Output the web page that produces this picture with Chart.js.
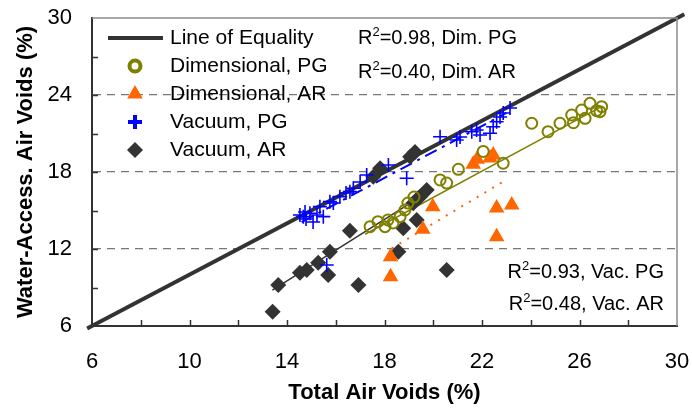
<!DOCTYPE html>
<html>
<head>
<meta charset="utf-8">
<script src="https://cdn.jsdelivr.net/npm/chart.js@4.4.0/dist/chart.umd.min.js"></script>
<style>
    html, body { margin: 0; padding: 0; background: #fff; }
</style>
</head>
<body>
<canvas id="chartVoids" width="692" height="412"></canvas>
<script>
// ==================== DATA ====================
const xTicks = [6, 10, 14, 18, 22, 26, 30];
const yTicks = [6, 12, 18, 24, 30];

const dimPgX = [17.41, 17.73, 18.02, 18.14, 18.35, 18.64, 18.84, 18.96, 19.21, 20.28, 20.55, 21.03, 22.05, 22.87, 24.04, 24.71, 25.2, 25.68, 25.75, 26.09, 26.23, 26.43, 26.7, 26.91, 26.84];
const dimPgY = [13.74, 14.13, 13.74, 14.26, 14.03, 14.52, 15.04, 15.58, 16.05, 17.38, 17.14, 18.21, 19.6, 18.68, 21.8, 21.14, 21.8, 22.44, 21.84, 22.83, 22.18, 23.35, 22.78, 23.09, 22.7];

const dimArX = [18.25, 18.25, 19.57, 19.98, 21.64, 21.8, 22.33, 22.46, 22.6, 23.22, 22.6];
const dimArY = [11.4, 9.84, 13.54, 15.3, 18.6, 19.0, 19.1, 19.32, 15.2, 15.43, 12.96];

const vacPgX = [14.53, 14.67, 14.74, 14.78, 14.94, 15.07, 15.23, 15.35, 15.49, 15.76, 15.9, 16.17, 16.42, 16.58, 16.72, 17.0, 17.27, 18.16, 18.91, 15.63, 20.28, 20.96, 21.1, 21.58, 21.78, 21.92, 22.33, 22.46, 22.6, 22.74, 22.87, 23.15];
const vacPgY = [14.65, 14.52, 14.88, 14.34, 14.78, 14.1, 14.65, 15.3, 14.52, 15.69, 15.58, 16.08, 16.36, 16.47, 16.73, 17.22, 17.77, 18.55, 17.51, 10.75, 20.75, 20.49, 20.73, 21.14, 21.27, 20.88, 21.02, 21.53, 21.92, 22.29, 22.6, 22.99];

const vacArX = [13.41, 13.64, 14.53, 14.81, 15.28, 15.76, 15.69, 16.93, 16.58, 17.54, 17.82, 18.57, 18.77, 19.32, 19.18, 19.39, 19.46, 19.73, 20.55, 19.05, 19.25];
const vacArY = [7.11, 9.19, 10.15, 10.36, 10.93, 11.79, 9.97, 9.19, 13.43, 17.63, 18.29, 11.79, 13.61, 14.26, 15.56, 15.97, 16.08, 16.6, 10.36, 19.19, 19.56];

// trend lines (end points)
const equalityX = [5.8, 30.3];
const equalityY = [5.8, 30.3];
const dimPgFitX = [17.2, 26.9];
const dimPgFitY = [13.15, 23.1];
const dimArFitX = [18.3, 23.0];
const dimArFitY = [12.05, 17.4];
const vacPgFitX = [14.6, 23.0];
const vacPgFitY = [14.1, 22.6];
const vacArFitX = [13.4, 20.0];
const vacArFitY = [8.8, 16.7];

const legendLabels = ["Line of Equality", "Dimensional, PG", "Dimensional, AR", "Vacuum, PG", "Vacuum, AR"];
const r2Labels = [
    { r2: "0.98", ten: "Dim. PG" },
    { r2: "0.40", ten: "Dim. AR" },
    { r2: "0.93", ten: "Vac. PG" },
    { r2: "0.48", ten: "Vac. AR" }
];

const FONT = '"Liberation Sans", Arial, sans-serif';
const OLIVE = "#808000";
const ORANGE = "#ff6600";
const BLUE = "#0000ff";
const DARK = "#333333";

function toPoints(xs, ys) {
    return xs.map((x, i) => ({ x: x, y: ys[i] }));
}

// ==================== DATASETS ====================
const datasets = [
    { label: legendLabels[0], type: "line", data: toPoints(equalityX, equalityY), borderColor: DARK, borderWidth: 4, pointRadius: 0, clip: false, order: 3 },
    { label: legendLabels[1], data: toPoints(dimPgX, dimPgY), pointStyle: "circle", pointRadius: 5.5, borderWidth: 2, borderColor: OLIVE, backgroundColor: "rgba(0,0,0,0)", order: 1 },
    { label: legendLabels[2], data: toPoints(dimArX, dimArY), pointStyle: "triangle", pointRadius: 9, borderWidth: 0, borderColor: ORANGE, backgroundColor: ORANGE, order: 1 },
    { label: legendLabels[3], data: toPoints(vacPgX, vacPgY), pointStyle: "cross", pointRadius: 7, borderWidth: 1.6, borderColor: BLUE, backgroundColor: BLUE, order: 1 },
    { label: legendLabels[4], data: toPoints(vacArX, vacArY), pointStyle: "rectRot", pointRadius: 8, borderWidth: 0, borderColor: DARK, backgroundColor: DARK, order: 1 },
    // fits
    { label: "fitDimPG", type: "line", data: toPoints(dimPgFitX, dimPgFitY), borderColor: OLIVE, borderWidth: 1.5, pointRadius: 0, order: 2 },
    { label: "fitDimAR", type: "line", data: toPoints(dimArFitX, dimArFitY), borderColor: ORANGE, borderWidth: 2, borderDash: [2, 7], pointRadius: 0, order: 2 },
    { label: "fitVacPG", type: "line", data: toPoints(vacPgFitX, vacPgFitY), borderColor: BLUE, borderWidth: 2, borderDash: [13, 6, 3, 6], pointRadius: 0, order: 2 },
    { label: "fitVacAR", type: "line", data: toPoints(vacArFitX, vacArFitY), borderColor: DARK, borderWidth: 1.5, pointRadius: 0, order: 2 }
];

// ==================== PLUGIN: KHUNG + TICK ====================
const framePlugin = {
    id: "frame",
    afterDraw(chart) {
        const { ctx, chartArea: a, scales: { x, y } } = chart;
        ctx.save();
        // top + right border
        ctx.strokeStyle = "#8a8a8a";
        ctx.lineWidth = 1.5;
        ctx.beginPath();
        ctx.moveTo(a.left, a.top);
        ctx.lineTo(a.right, a.top);
        ctx.lineTo(a.right, a.bottom);
        ctx.stroke();
        // inward ticks
        ctx.strokeStyle = DARK;
        ctx.lineWidth = 1.5;
        ctx.beginPath();
        for (let v = 8; v < 30; v += 2) {
            const px = Math.round(x.getPixelForValue(v)) + 0.5;
            ctx.moveTo(px, a.bottom);
            ctx.lineTo(px, a.bottom - 6);
        }
        for (let v = 9; v < 30; v += 3) {
            const py = Math.round(y.getPixelForValue(v)) + 0.5;
            ctx.moveTo(a.left, py);
            ctx.lineTo(a.left + 6, py);
        }
        ctx.stroke();
        ctx.restore();
    }
};

// ==================== PLUGIN: LEGEND + R2 ====================
function veR2(ctx, item, x, y, align) {
    const big = "20px " + FONT;
    const small = "13px " + FONT;
    const rest = "=" + item.r2 + ", " + item.ten;
    ctx.font = big;
    const wR = ctx.measureText("R").width;
    const wRest = ctx.measureText(rest).width;
    ctx.font = small;
    const w2 = ctx.measureText("2").width;
    let x0 = align === "right" ? x - (wR + w2 + wRest) : x;
    ctx.textAlign = "left";
    ctx.textBaseline = "middle";
    ctx.font = big;
    ctx.fillText("R", x0, y);
    ctx.font = small;
    ctx.fillText("2", x0 + wR, y - 6);
    ctx.font = big;
    ctx.fillText(rest, x0 + wR + w2, y);
}

const legendPlugin = {
    id: "boxLegend",
    afterDraw(chart) {
        const ctx = chart.ctx;
        const rowsY = [38, 66, 94, 122, 150];
        ctx.save();
        ctx.fillStyle = "#000";
        legendLabels.forEach((text, i) => {
            const ds = chart.data.datasets[i];
            const yy = rowsY[i];
            if (i === 0) {
                ctx.strokeStyle = ds.borderColor;
                ctx.lineWidth = 4;
                ctx.beginPath();
                ctx.moveTo(108, yy);
                ctx.lineTo(163, yy);
                ctx.stroke();
            } else {
                ctx.strokeStyle = ds.borderColor;
                ctx.fillStyle = ds.backgroundColor;
                Chart.helpers.drawPoint(ctx, {
                    pointStyle: ds.pointStyle,
                    radius: ds.pointRadius,
                    borderWidth: ds.borderWidth,
                    rotation: 0
                }, 135, yy);
            }
            ctx.fillStyle = "#000";
            ctx.font = "21px " + FONT;
            ctx.textAlign = "left";
            ctx.textBaseline = "middle";
            ctx.fillText(text, 170, yy);
        });
        veR2(ctx, r2Labels[0], 358, 38, "left");
        veR2(ctx, r2Labels[1], 358, 72, "left");
        veR2(ctx, r2Labels[2], 664, 272, "right");
        veR2(ctx, r2Labels[3], 664, 304, "right");
        ctx.restore();
    }
};

// ==================== VẼ BIỂU ĐỒ ====================
new Chart(document.getElementById("chartVoids"), {
    type: "scatter",
    data: { datasets: datasets },
    options: {
        responsive: false,
        animation: false,
        devicePixelRatio: 1,
        layout: { padding: { top: 18, right: 15, left: 0, bottom: 0 } },
        plugins: {
            legend: { display: false },
            tooltip: { enabled: false }
        },
        scales: {
            x: {
                type: "linear",
                min: 6,
                max: 30,
                afterBuildTicks: s => { s.ticks = xTicks.map(v => ({ value: v })); },
                afterFit: s => { s.height = 86; s.paddingLeft = 0; s.paddingRight = 0; },
                ticks: { color: "#000", font: { family: FONT, size: 22 }, padding: 23, maxRotation: 0 },
                grid: { color: "rgba(0,0,0,0)", drawTicks: false },
                border: { display: true, color: DARK, width: 2 },
                title: { display: true, text: "Total Air Voids (%)", color: "#000", font: { family: FONT, size: 22, weight: "bold" }, padding: { top: 0, bottom: 6 } }
            },
            y: {
                type: "linear",
                min: 6,
                max: 30,
                afterBuildTicks: s => { s.ticks = yTicks.map(v => ({ value: v })); },
                afterFit: s => { s.width = 92; s.paddingTop = 0; s.paddingBottom = 0; },
                ticks: { color: "#000", font: { family: FONT, size: 22 }, padding: 20 },
                grid: {
                    color: c => (c.tick && c.tick.value > 6 && c.tick.value < 30) ? "#777" : "rgba(0,0,0,0)",
                    lineWidth: 1.3,
                    drawTicks: false
                },
                border: { display: true, color: DARK, width: 2, dash: [8, 6] },
                title: { display: true, text: "Water-Access. Air Voids (%)", color: "#000", font: { family: FONT, size: 22, weight: "bold" }, padding: { top: 13, bottom: 0 } }
            }
        }
    },
    plugins: [framePlugin, legendPlugin]
});
</script>
</body>
</html>
